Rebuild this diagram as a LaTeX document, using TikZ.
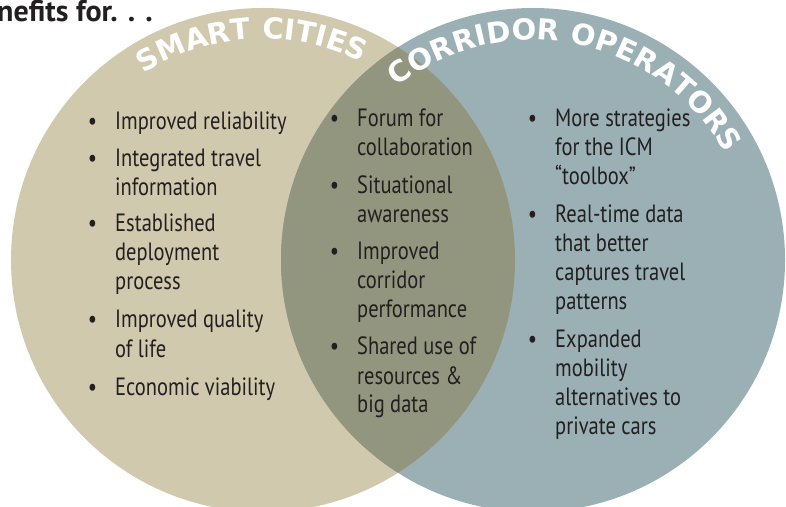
\documentclass[tikz,border=0pt]{standalone}
\usepackage{fontspec}
\setmainfont{PT Sans}
\newfontfamily\bodyfont[FakeStretch=0.82]{PT Sans}
\newfontfamily\headfont{PT Sans}
\newfontfamily\arcfont[LetterSpace=2]{DejaVu Sans}
\usetikzlibrary{decorations.text}
\definecolor{cityfill}{HTML}{D0C9AE}
\definecolor{corrfill}{HTML}{9AB0B5}
\definecolor{bothfill}{HTML}{93967E}
\definecolor{ink}{HTML}{231F20}
\newcommand{\bul}{\llap{•\hspace{18pt}}}
\begin{document}
\begin{tikzpicture}[x=1pt,y=1pt,
  % multi-line entries are placed by the baseline of their last line
  entry/.style={anchor=base west, inner sep=0pt, align=left, text=ink,
    font=\bodyfont\fontsize{25}{29}\selectfont},
  arclabel/.style={decorate, decoration={text along path, text align=center,
    text={|\arcfont\bfseries\fontsize{29}{29}\selectfont\color{white}|#1}}}]
\useasboundingbox (0,0) rectangle (786,506);
\clip (0,0) rectangle (786,506);

% the two sets and their overlap
\coordinate (cc) at (263,246);
\coordinate (co) at (533,246);
\fill[cityfill] (cc) circle[radius=252];
\fill[corrfill] (co) circle[radius=252];
\begin{scope}
  \clip (cc) circle[radius=252];
  \fill[bothfill] (co) circle[radius=252];
\end{scope}

% curved set names
\path[arclabel={SMART CITIES}] (cc) ++(148:221) arc[start angle=148, end angle=38, radius=221];
\path[arclabel={CORRIDOR OPERATORS}] (co) ++(146:220) arc[start angle=146, end angle=11, radius=220];

% heading
\node[anchor=base east, inner sep=0pt, text=ink,
  font=\headfont\bfseries\fontsize{30}{30}\selectfont] (title) at (153,484) {Benefits for. . .};

% smart cities only
\node[entry] (L1) at (115,376) {\bul Improved reliability};
\node[entry] (L2) at (115,310) {\bul Integrated travel\\information};
\node[entry] (L3) at (115,216) {\bul Established\\deployment\\process};
\node[entry] (L4) at (115,149) {\bul Improved quality\\of life};
\node[entry] (L5) at (115,111) {\bul Economic viability};

% shared benefits
\node[entry] (M1) at (357,350) {\bul Forum for\\collaboration};
\node[entry] (M2) at (357,283) {\bul Situational\\awareness};
\node[entry] (M3) at (357,188) {\bul Improved\\corridor\\performance};
\node[entry] (M4) at (357,93) {\bul Shared use of\\resources \&\\big data};

% corridor operators only
\node[entry] (R1) at (555,321) {\bul More strategies\\for the ICM\\“toolbox”};
\node[entry] (R2) at (555,196) {\bul Real-time data\\that better\\captures travel\\patterns};
\node[entry] (R3) at (555,72) {\bul Expanded\\mobility\\alternatives to\\private cars};
\end{tikzpicture}
\end{document}
